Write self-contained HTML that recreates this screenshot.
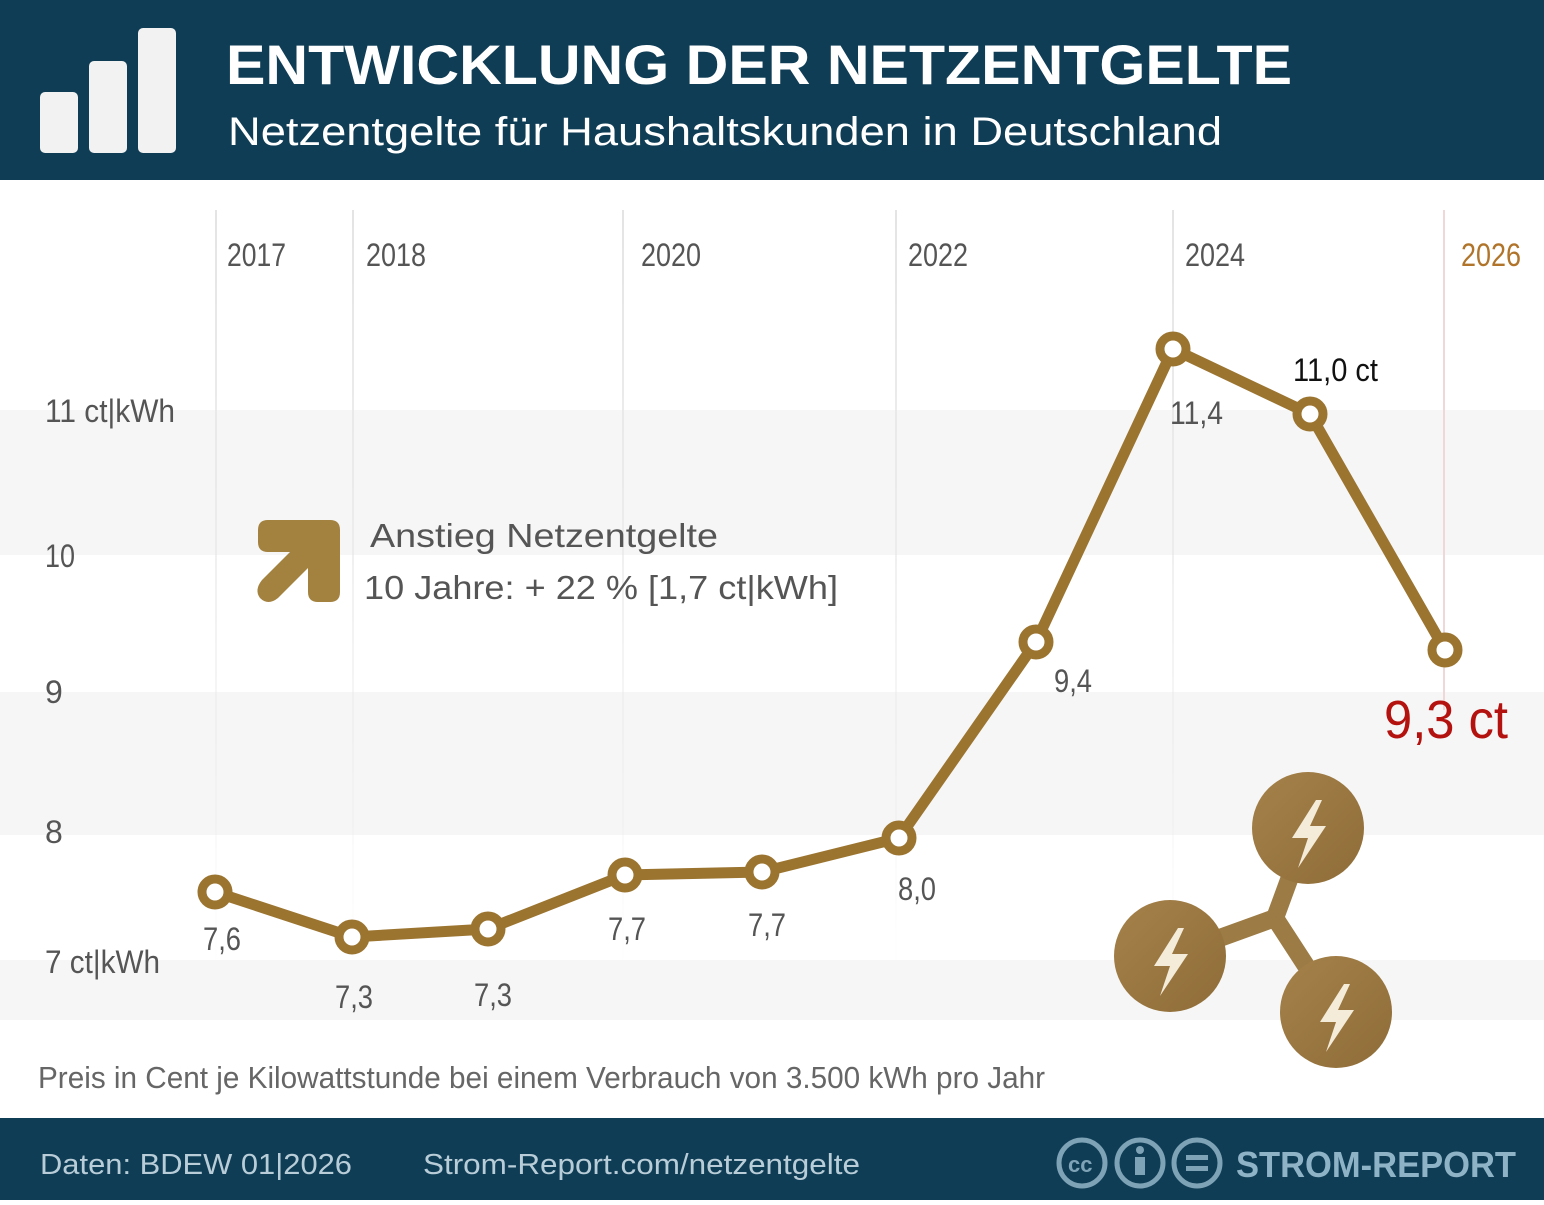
<!DOCTYPE html>
<html><head><meta charset="utf-8"><style>
body{margin:0;width:1544px;height:1200px;overflow:hidden;background:#fff;font-family:"Liberation Sans",sans-serif}
</style></head><body>
<svg width="1544" height="1200" viewBox="0 0 1544 1200" xmlns="http://www.w3.org/2000/svg">
<defs>
<linearGradient id="vg" x1="0" y1="0" x2="0" y2="1"><stop offset="0" stop-color="#e4e4e4"/><stop offset="1" stop-color="#e4e4e4" stop-opacity="0"/></linearGradient>
<linearGradient id="gold" x1="0" y1="0" x2="1" y2="1"><stop offset="0" stop-color="#a5814a"/><stop offset="1" stop-color="#8f6d38"/></linearGradient>
</defs>
<rect x="0" y="0" width="1544" height="180" fill="#0f3d55"/>
<rect x="40" y="92" width="38" height="61" rx="5" fill="#f2f2f2"/>
<rect x="89" y="61" width="38" height="92" rx="5" fill="#f2f2f2"/>
<rect x="138" y="28" width="38" height="125" rx="5" fill="#f2f2f2"/>
<text x="226" y="84" font-size="56" font-weight="bold" fill="#fff" textLength="1066" lengthAdjust="spacingAndGlyphs">ENTWICKLUNG DER NETZENTGELTE</text>
<text x="228" y="145" font-size="40" fill="#fff" textLength="994" lengthAdjust="spacingAndGlyphs">Netzentgelte für Haushaltskunden in Deutschland</text>
<rect x="0" y="410" width="1544" height="145" fill="#f6f6f6"/>
<rect x="0" y="692" width="1544" height="143" fill="#f6f6f6"/>
<rect x="0" y="960" width="1544" height="60" fill="#f6f6f6"/>
<g fill="url(#vg)">
<rect x="215" y="210" width="2" height="760"/><rect x="352" y="210" width="2" height="760"/>
<rect x="622" y="210" width="2" height="760"/><rect x="895" y="210" width="2" height="760"/>
<rect x="1172" y="210" width="2" height="760"/>
</g>
<rect x="1443" y="210" width="2" height="500" fill="#f0d8d8"/>
<g font-size="32" fill="#555" lengthAdjust="spacingAndGlyphs">
<text x="227" y="266" textLength="59" lengthAdjust="spacingAndGlyphs">2017</text>
<text x="366" y="266" textLength="60" lengthAdjust="spacingAndGlyphs">2018</text>
<text x="641" y="266" textLength="60" lengthAdjust="spacingAndGlyphs">2020</text>
<text x="908" y="266" textLength="60" lengthAdjust="spacingAndGlyphs">2022</text>
<text x="1185" y="266" textLength="60" lengthAdjust="spacingAndGlyphs">2024</text>
<text x="1461" y="266" fill="#b0742a" textLength="60" lengthAdjust="spacingAndGlyphs">2026</text>
<text x="45" y="422" textLength="130" lengthAdjust="spacingAndGlyphs">11 ct|kWh</text>
<text x="45" y="567" textLength="30" lengthAdjust="spacingAndGlyphs">10</text>
<text x="45" y="703">9</text>
<text x="45" y="843">8</text>
<text x="45" y="973" textLength="115" lengthAdjust="spacingAndGlyphs">7 ct|kWh</text>
<text x="203" y="950" textLength="38" lengthAdjust="spacingAndGlyphs">7,6</text>
<text x="335" y="1008" textLength="38" lengthAdjust="spacingAndGlyphs">7,3</text>
<text x="474" y="1006" textLength="38" lengthAdjust="spacingAndGlyphs">7,3</text>
<text x="608" y="940" textLength="38" lengthAdjust="spacingAndGlyphs">7,7</text>
<text x="748" y="936" textLength="38" lengthAdjust="spacingAndGlyphs">7,7</text>
<text x="898" y="900" textLength="38" lengthAdjust="spacingAndGlyphs">8,0</text>
<text x="1054" y="692" textLength="38" lengthAdjust="spacingAndGlyphs">9,4</text>
<text x="1170" y="424" textLength="53" lengthAdjust="spacingAndGlyphs">11,4</text>
<text x="1293" y="381" fill="#111" textLength="85" lengthAdjust="spacingAndGlyphs">11,0 ct</text>
<text x="1384" y="738" font-size="54" fill="#b3120f" textLength="124" lengthAdjust="spacingAndGlyphs">9,3 ct</text>
<text x="38" y="1088" font-size="31" fill="#666" textLength="1007" lengthAdjust="spacingAndGlyphs">Preis in Cent je Kilowattstunde bei einem Verbrauch von 3.500 kWh pro Jahr</text>
</g>
<path d="M268 520 H330 Q340 520 340 530 V592 Q340 602 330 602 H318 Q308 602 308 592 V568 L278 598 Q268 606 260 598 Q254 590 262 580 L290 552 H268 Q258 552 258 542 V530 Q258 520 268 520 Z" fill="#a3813f"/>
<text x="370" y="547" font-size="33" fill="#555" textLength="348" lengthAdjust="spacingAndGlyphs">Anstieg Netzentgelte</text>
<text x="364" y="599" font-size="33" fill="#555" textLength="474" lengthAdjust="spacingAndGlyphs">10 Jahre: + 22 %  [1,7 ct|kWh]</text>
<polyline points="215,892 352,937 488,929 625,875 762,872 899,838 1036,642 1173,349 1310,414 1445,650" fill="none" stroke="#9b7430" stroke-width="11" stroke-linejoin="round"/>
<g fill="#fff" stroke="#9b7430" stroke-width="9">
<circle cx="215" cy="892" r="13"/><circle cx="352" cy="937" r="13"/><circle cx="488" cy="929" r="13"/>
<circle cx="625" cy="875" r="13"/><circle cx="762" cy="872" r="13"/><circle cx="899" cy="838" r="13"/>
<circle cx="1036" cy="642" r="13"/><circle cx="1173" cy="349" r="13"/><circle cx="1310" cy="414" r="13"/>
<circle cx="1445" cy="650" r="13"/>
</g>
<g stroke="#9c7b45" stroke-width="18">
<line x1="1275" y1="918" x2="1308" y2="828"/><line x1="1275" y1="918" x2="1170" y2="956"/><line x1="1275" y1="918" x2="1336" y2="1012"/>
</g>
<g fill="url(#gold)">
<circle cx="1308" cy="828" r="56"/><circle cx="1170" cy="956" r="56"/><circle cx="1336" cy="1012" r="56"/>
</g>
<g fill="#f4ecd8">
<path d="M1316 800 L1292 838 H1308 L1298 868 L1326 826 H1310 L1322 800 Z"/>
<path d="M1178 928 L1154 966 H1170 L1160 996 L1188 954 H1172 L1184 928 Z"/>
<path d="M1344 984 L1320 1022 H1336 L1326 1052 L1354 1010 H1338 L1350 984 Z"/>
</g>
<rect x="0" y="1118" width="1544" height="82" fill="#0f3d55"/>
<g font-size="29" fill="#b8cdd8">
<text x="40" y="1174" textLength="312" lengthAdjust="spacingAndGlyphs">Daten: BDEW  01|2026</text>
<text x="423" y="1174" textLength="437" lengthAdjust="spacingAndGlyphs">Strom-Report.com/netzentgelte</text>
</g>
<g fill="none" stroke="#7fa3b6" stroke-width="5">
<circle cx="1082" cy="1163" r="23"/><circle cx="1140" cy="1163" r="23"/><circle cx="1197" cy="1163" r="23"/>
</g>
<text x="1068" y="1172" font-size="22" font-weight="bold" fill="#7fa3b6">cc</text>
<circle cx="1140" cy="1150" r="4" fill="#7fa3b6"/><rect x="1135" y="1157" width="10" height="18" fill="#7fa3b6"/>
<rect x="1186" y="1155" width="22" height="5" fill="#7fa3b6"/><rect x="1186" y="1166" width="22" height="5" fill="#7fa3b6"/>
<text x="1236" y="1177" font-size="36" font-weight="bold" fill="#8fb3c6" textLength="280" lengthAdjust="spacingAndGlyphs">STROM-REPORT</text>
</svg>
</body></html>
